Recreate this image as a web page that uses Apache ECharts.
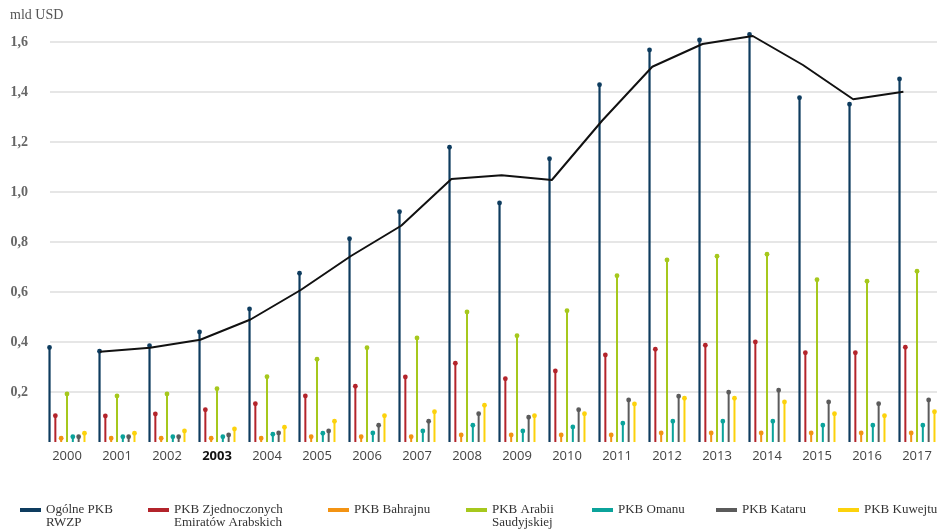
<!DOCTYPE html>
<html>
<head>
<meta charset="utf-8">
<script src="https://cdn.jsdelivr.net/npm/echarts@6/dist/echarts.min.js"></script>
<style>
  html, body { margin: 0; padding: 0; background: #fff; }
  #chart { width: 942px; height: 530px; }
</style>
</head>
<body>
<div id="chart"></div>
<script>
// Lata
var years = ['2000','2001','2002','2003','2004','2005','2006','2007','2008',
             '2009','2010','2011','2012','2013','2014','2015','2016','2017'];

// PKB w mld USD
var pkbRwzp     = [0.378, 0.363, 0.385, 0.440, 0.532, 0.675, 0.813, 0.921, 1.179,
                   0.956, 1.133, 1.429, 1.568, 1.608, 1.630, 1.377, 1.351, 1.452];
var pkbZea      = [0.105, 0.104, 0.112, 0.129, 0.153, 0.184, 0.223, 0.260, 0.315,
                   0.253, 0.284, 0.348, 0.371, 0.387, 0.400, 0.357, 0.357, 0.379];
var pkbBahrajn  = [0.015, 0.015, 0.015, 0.015, 0.015, 0.021, 0.021, 0.021, 0.028,
                   0.028, 0.028, 0.028, 0.036, 0.036, 0.036, 0.036, 0.036, 0.036];
var pkbArabia   = [0.192, 0.184, 0.192, 0.213, 0.261, 0.331, 0.377, 0.416, 0.520,
                   0.425, 0.525, 0.665, 0.728, 0.743, 0.751, 0.649, 0.643, 0.683];
var pkbOman     = [0.021, 0.021, 0.021, 0.021, 0.031, 0.035, 0.036, 0.044, 0.067,
                   0.044, 0.060, 0.075, 0.083, 0.083, 0.083, 0.067, 0.067, 0.067];
var pkbKatar    = [0.021, 0.021, 0.021, 0.028, 0.036, 0.044, 0.067, 0.083, 0.113,
                   0.099, 0.129, 0.168, 0.183, 0.199, 0.207, 0.160, 0.153, 0.168];
var pkbKuwejt   = [0.035, 0.035, 0.044, 0.052, 0.059, 0.083, 0.105, 0.121, 0.147,
                   0.105, 0.113, 0.152, 0.175, 0.175, 0.160, 0.113, 0.105, 0.121];
// Linia trendu PKB RWZP
var trendRwzp   = [null, 0.361, 0.377, 0.409, 0.490, 0.608, 0.744, 0.865, 1.052,
                   1.067, 1.048, 1.285, 1.501, 1.592, 1.624, 1.508, 1.371, 1.401];

var yTicks = [0, 0.2, 0.4, 0.6, 0.8, 1.0, 1.2, 1.4, 1.6];

var seriesNames = ['Ogólne PKB\nRWZP', 'PKB Zjednoczonych\nEmiratów Arabskich', 'PKB Bahrajnu',
                   'PKB Arabii\nSaudyjskiej', 'PKB Omanu', 'PKB Kataru', 'PKB Kuwejtu'];
var seriesData = [pkbRwzp, pkbZea, pkbBahrajn, pkbArabia, pkbOman, pkbKatar, pkbKuwejt];
var colors = ['#0e3c5f', '#b3242b', '#f39313', '#a6c81d', '#0ba39b', '#5b5b5b', '#fcd20c'];
var legendLeft = [20, 148, 328, 466, 592, 716, 838];

var serif = '"Liberation Serif", "DejaVu Serif", serif';
var sans = '"Open Sans", "DejaVu Sans", sans-serif';

var TOP = 42, BOTTOM = 88;

// Pionowa kreska z kropką na końcu, przesunięta w obrębie roku
function lollipop(k) {
  return function (params, api) {
    var idx = api.value(0);
    var top = api.coord([idx, api.value(1)]);
    var base = api.coord([idx, 0]);
    var band = api.size([1, 0])[0];
    var dx = (k - 3) * band * 0.1165;
    var x = top[0] + dx;
    var color = colors[k];
    return {
      type: 'group',
      children: [
        { type: 'line', shape: { x1: x, y1: base[1], x2: x, y2: top[1] },
          style: { stroke: color, lineWidth: k === 0 ? 2.2 : 2 } },
        { type: 'circle', shape: { cx: x, cy: top[1], r: 2.4 },
          style: { fill: color } }
      ]
    };
  };
}

var series = seriesData.map(function (vals, k) {
  return {
    name: seriesNames[k],
    type: 'custom',
    xAxisIndex: 1,
    yAxisIndex: 1,
    clip: false,
    itemStyle: { color: colors[k] },
    renderItem: lollipop(k),
    encode: { x: 0, y: 1 },
    data: vals.map(function (v, i) { return [i, v]; }),
    z: 3
  };
});

series.push({
  name: 'trend',
  type: 'line',
  xAxisIndex: 2,
  yAxisIndex: 2,
  data: trendRwzp,
  symbol: 'none',
  clip: false,
  lineStyle: { color: '#111', width: 2 },
  z: 5
});

var legends = seriesNames.map(function (name, k) {
  var twoLine = name.indexOf('\n') >= 0;
  return {
    data: [name],
    left: legendLeft[k],
    top: twoLine ? 490.5 : 503.5,
    padding: 0,
    icon: 'rect',
    itemWidth: 21,
    itemHeight: 4,
    selectedMode: false,
    // pusta pierwsza linia: ikona zrównana z pierwszym wierszem opisu
    formatter: function (n) { return n.indexOf('\n') >= 0 ? '\n' + n : n; },
    textStyle: {
      fontFamily: serif,
      fontSize: 13,
      lineHeight: 13,
      color: '#333'
    }
  };
});

var option = {
  animation: false,
  title: {
    text: 'mld USD',
    left: 10, top: 8, padding: 0,
    textStyle: { fontFamily: serif, fontSize: 14, fontWeight: 'normal', color: '#555' }
  },
  legend: legends,
  grid: [
    { left: 50, right: 5, top: TOP, bottom: BOTTOM },
    { left: 42, width: 904, top: TOP, bottom: BOTTOM },
    { left: 24.5, width: 904, top: TOP, bottom: BOTTOM }
  ],
  xAxis: [
    { gridIndex: 0, type: 'category', data: years, show: false },
    {
      gridIndex: 1, type: 'category', data: years,
      axisLine: { show: false }, axisTick: { show: false },
      axisLabel: {
        interval: 0,
        margin: 8,
        formatter: function (v) { return v === '2003' ? '{b|' + v + '}' : '{a|' + v + '}'; },
        rich: {
          a: { fontFamily: sans, fontSize: 13, color: '#444' },
          b: { fontFamily: sans, fontSize: 13, color: '#111', fontWeight: 'bold' }
        }
      }
    },
    { gridIndex: 2, type: 'category', data: years, show: false }
  ],
  yAxis: [
    {
      gridIndex: 0, type: 'value', min: yTicks[0], max: yTicks[yTicks.length - 1], interval: 0.2,
      axisLine: { show: false }, axisTick: { show: false },
      axisLabel: {
        margin: 22,
        fontFamily: serif, fontSize: 14, fontWeight: 'bold', color: '#666',
        formatter: function (v) { return v === 0 ? '' : v.toFixed(1).replace('.', ','); }
      },
      splitLine: {
        lineStyle: {
          width: 1.5,
          color: yTicks.map(function (t) { return t === 0 ? 'rgba(0,0,0,0)' : '#dedede'; })
        }
      }
    },
    { gridIndex: 1, type: 'value', min: 0, max: 1.6, show: false },
    { gridIndex: 2, type: 'value', min: 0, max: 1.6, show: false }
  ],
  series: series
};

var chart = echarts.init(document.getElementById('chart'), null, { renderer: 'canvas' });
chart.setOption(option);
</script>
</body>
</html>
